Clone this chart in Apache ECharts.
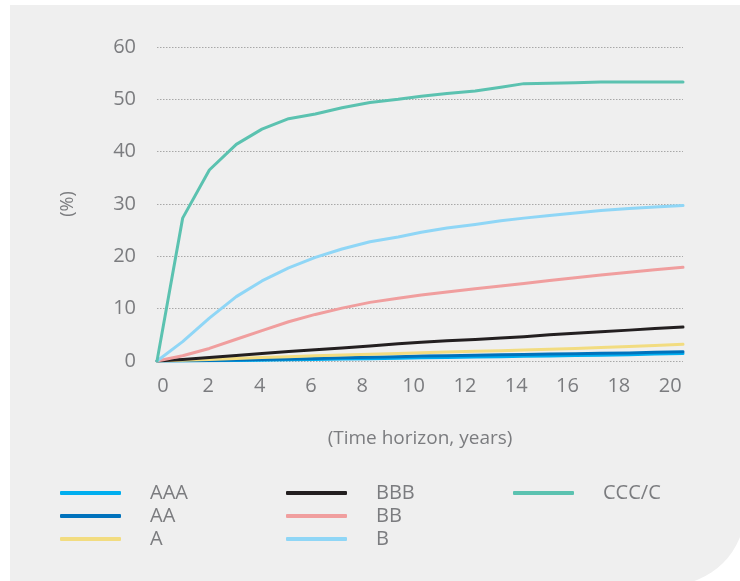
<!DOCTYPE html>
<html>
<head>
<meta charset="utf-8">
<script src="https://cdn.jsdelivr.net/npm/echarts@6/dist/echarts.min.js"></script>
<style>html,body{margin:0;padding:0;background:#fff}#c{width:740px;height:581px}</style>
</head>
<body>
<div id="c"></div>
<script>
const years = [0, 1, 2.04, 3.09, 4.09, 5.13, 6.17, 7.21, 8.3, 9.4, 10.3, 11.3, 12.4, 13.4, 14.3, 15.3, 16.3, 17.3, 18.4, 19.4, 20.5];
const xTicks = [0, 2, 4, 6, 8, 10, 12, 14, 16, 18, 20];
const names = ['AAA', 'AA', 'A', 'BBB', 'BB', 'B', 'CCC/C'];
const AAA = [0, 0.02, 0.05, 0.1, 0.15, 0.22, 0.3, 0.37, 0.45, 0.52, 0.6, 0.67, 0.75, 0.82, 0.9, 0.97, 1.05, 1.12, 1.2, 1.32, 1.45];
const AA  = [0, 0.05, 0.1, 0.2, 0.3, 0.4, 0.5, 0.6, 0.7, 0.82, 0.95, 1.02, 1.1, 1.18, 1.25, 1.33, 1.4, 1.48, 1.55, 1.65, 1.75];
const A   = [0, 0.15, 0.3, 0.5, 0.65, 0.82, 1.0, 1.15, 1.3, 1.45, 1.6, 1.72, 1.85, 1.97, 2.1, 2.25, 2.4, 2.57, 2.75, 2.95, 3.2];
const BBB = [0, 0.3, 0.65, 1.05, 1.45, 1.8, 2.15, 2.5, 2.85, 3.3, 3.6, 3.85, 4.1, 4.4, 4.65, 5.0, 5.3, 5.6, 5.9, 6.2, 6.5];
const BB  = [0, 1.0, 2.4, 4.15, 5.8, 7.5, 8.9, 10.1, 11.2, 12.0, 12.6, 13.2, 13.8, 14.35, 14.8, 15.4, 15.9, 16.45, 16.95, 17.45, 17.9];
const B   = [0, 3.7, 8.2, 12.3, 15.3, 17.8, 19.8, 21.4, 22.8, 23.7, 24.6, 25.4, 26.1, 26.8, 27.3, 27.8, 28.3, 28.75, 29.15, 29.45, 29.7];
const CCC = [0, 27.3, 36.5, 41.4, 44.3, 46.3, 47.2, 48.4, 49.4, 50.0, 50.6, 51.1, 51.6, 52.3, 53.0, 53.05, 53.15, 53.3, 53.3, 53.3, 53.3];
const values = [AAA, AA, A, BBB, BB, B, CCC];
const colors = ['#00aeef', '#0072bc', '#f2dc80', '#231f20', '#f09e9e', '#8fd6f6', '#5bc2b0'];

const textColor = '#7b7c7f';
const font = "'Open Sans', 'Noto Sans', sans-serif";

const series = names.map((n, i) => ({
  name: n,
  type: 'line',
  data: years.map((x, j) => [x, values[i][j]]),
  showSymbol: false,
  symbol: 'none',
  lineStyle: { width: 3, color: colors[i], cap: 'round', join: 'round' },
  itemStyle: { color: colors[i] },
  emphasis: { disabled: true },
  animation: false
}));

function legend(data, left) {
  return {
    data: data,
    orient: 'vertical',
    left: left,
    top: 483,
    padding: 0,
    icon: 'roundRect',
    itemWidth: 61,
    itemHeight: 4,
    itemGap: 3,
    selectedMode: false,
    textStyle: { color: textColor, fontSize: 20, fontFamily: font, lineHeight: 20, padding: [0, 0, 0, 24] }
  };
}

const chart = echarts.init(document.getElementById('c'));
chart.setOption({
  backgroundColor: '#ffffff',
  animation: false,
  graphic: [{
    type: 'rect', z: -10, silent: true,
    shape: { x: 10, y: 5, width: 735, height: 580, r: [0, 0, 75, 0] },
    style: { fill: '#efefef' }
  }],
  legend: [legend(['AAA', 'AA', 'A'], 60), legend(['BBB', 'BB', 'B'], 286), legend(['CCC/C'], 513)],
  grid: { left: 157, right: 57, top: 47, bottom: 220 },
  xAxis: {
    type: 'value', min: 0, max: 20.5, interval: 2,
    name: '(Time horizon, years)', nameLocation: 'middle', nameGap: 68,
    nameTextStyle: { color: textColor, fontSize: 19, fontFamily: font },
    axisLine: { show: false }, axisTick: { show: false }, splitLine: { show: false },
    axisLabel: {
      color: textColor, fontSize: 20, fontFamily: font, margin: 15,
      formatter: v => xTicks.indexOf(v) >= 0 ? (v === 0 ? '{z|0}' : String(v)) : '',
      rich: { z: { color: textColor, fontSize: 20, fontFamily: font, padding: [0, 0, 0, 12] } }
    }
  },
  yAxis: {
    type: 'value', min: 0, max: 60, interval: 10,
    name: '(%)', nameLocation: 'middle', nameGap: 80, nameRotate: 90,
    nameTextStyle: { color: textColor, fontSize: 18, fontFamily: font },
    axisLine: { show: false }, axisTick: { show: false },
    axisLabel: { color: textColor, fontSize: 20, fontFamily: font, margin: 21, padding: [0, 0, 4, 0] },
    splitLine: { lineStyle: { color: '#a8a8a8', type: [1.5, 1.5], width: 1 } }
  },
  series: series
});
</script>
</body>
</html>
